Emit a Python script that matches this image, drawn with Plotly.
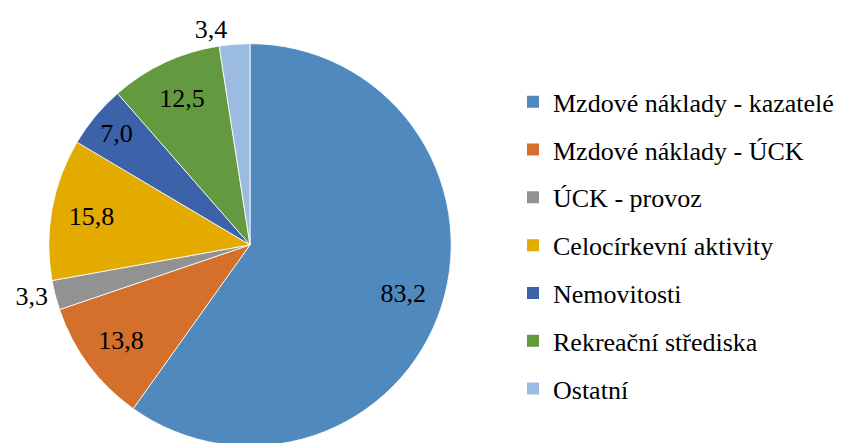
import plotly.graph_objects as go

categories = ["Mzdové náklady - kazatelé", "Mzdové náklady - ÚCK", "ÚCK - provoz",
              "Celocírkevní aktivity", "Nemovitosti", "Rekreační střediska", "Ostatní"]
values = [83.2, 13.8, 3.3, 15.8, 7.0, 12.5, 3.4]
colors = ["#4F89BD", "#D4702C", "#929292", "#E3AA00", "#3C62AA", "#649A3F", "#9BBBE0"]
text_positions = ["inside", "inside", "outside", "inside", "inside", "inside", "outside"]

FONT = "Liberation Serif"
FS = 26
W, H = 843, 443
OFF = 8  # page body margin
cx, cy, r = 250 - OFF, 247 - OFF, 203
dom = dict(x=[(cx - r) / W, (cx + r) / W], y=[1 - (cy + r) / H, 1 - (cy - r) / H])

fig = go.Figure()
# coloured pie (no text)
fig.add_trace(go.Pie(
    labels=categories, values=values, sort=False, direction="clockwise", rotation=0,
    marker=dict(colors=colors, line=dict(color="white", width=0.8)),
    textinfo="none", showlegend=False, hoverinfo="label+value", domain=dom,
))
# transparent ring on top carrying the data labels further out
fig.add_trace(go.Pie(
    labels=categories, values=values, sort=False, direction="clockwise", rotation=0,
    hole=0.6,
    marker=dict(colors=["rgba(0,0,0,0)"] * len(values), line=dict(width=0)),
    texttemplate="%{value:.1f}", textposition=text_positions,
    insidetextorientation="horizontal",
    textfont=dict(family=FONT, size=FS, color="black"),
    showlegend=False, hoverinfo="skip", domain=dom,
))
for cat, col in zip(categories, colors):
    fig.add_trace(go.Scatter(
        x=[None], y=[None], mode="markers", name=cat, legendgroup=cat,
        marker=dict(symbol="square", size=12, color=col), showlegend=True,
    ))

fig.update_layout(
    width=W, height=H, margin=dict(l=0, r=0, t=0, b=0),
    paper_bgcolor="white", plot_bgcolor="white",
    separators=", ",
    font=dict(family=FONT, size=FS, color="black"),
    xaxis=dict(visible=False), yaxis=dict(visible=False),
    legend=dict(x=505 / W, xanchor="left", y=1 - 239.5 / H, yanchor="middle",
                tracegroupgap=11, font=dict(family=FONT, size=FS, color="black"),
                bgcolor="rgba(0,0,0,0)"),
)
fig.write_html("out.html")
